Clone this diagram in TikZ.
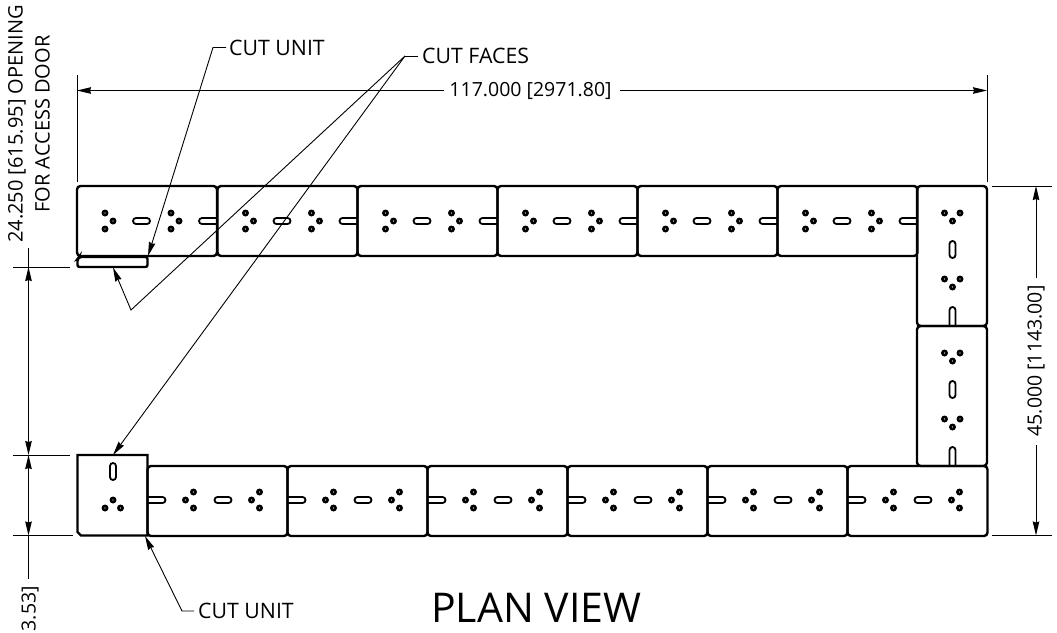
\documentclass[tikz,border=0pt]{standalone}
\usepackage{fontspec}
\setmainfont{Open Sans}
\usetikzlibrary{arrows.meta}
\tikzset{
  panel/.style={line width=2.4pt,rounded corners=3.5pt,draw=black},
  cutpanel/.style={line width=2.4pt,draw=black},
  slotline/.style={line width=1.8pt,draw=black},
  holeblack/.style={fill=black,draw=none},
  holewhite/.style={fill=white,draw=none},
  thin dim/.style={line width=0.9pt,draw=black},
  dimarrow/.style={line width=1pt,draw=black,-{Stealth[length=14pt,width=6.5pt,inset=1pt]}},
  leadarrow/.style={line width=0.9pt,draw=black,-{Stealth[length=14pt,width=6.5pt,inset=1pt]}},
  label/.style={font=\fontsize{19.5}{27}\selectfont,inner sep=0pt,text=black},
  caplabel/.style={font=\fontsize{21.3}{27}\selectfont,inner sep=0pt,text=black},
  sidelabel/.style={font=\fontsize{20}{27}\selectfont,inner sep=0pt,text=black},
}
\newcommand{\hl}[2]{\fill[holeblack] (#1,#2) circle (3.5pt);\fill[holewhite] (#1,#2) circle (0.7pt);}
\newcommand{\hslot}[2]{\draw[slotline,rounded corners=3pt] (#1,#2-3) rectangle (#1+17,#2+3);}
\newcommand{\vslot}[2]{\draw[slotline,rounded corners=3pt] (#1-3,#2) rectangle (#1+3,#2+17);}
% top row panel: x = left edge
\newcommand{\toppanel}[1]{
\begin{scope}[shift={(#1,186)}]
 \draw[panel] (0,0) rectangle (140,70);
 \hl{28}{27}\hl{28}{43}\hl{36}{35}
 \hslot{56}{35}
 \hl{94}{27}\hl{94}{43}\hl{102}{35}
 \draw[slotline,rounded corners=3pt] (139.5,32) -- (122,32) -- (122,38) -- (139.5,38);
\end{scope}}
% bottom row panel
\newcommand{\botpanel}[1]{
\begin{scope}[shift={(#1,466)}]
 \draw[panel] (0,0) rectangle (140,70);
 \draw[slotline,rounded corners=3pt] (0.5,31) -- (18,31) -- (18,37) -- (0.5,37);
 \hl{38}{34}\hl{46}{26}\hl{46}{42}
 \hslot{67}{34}
 \hl{104}{34}\hl{112}{26}\hl{112}{42}
\end{scope}}
% right column panel
\newcommand{\sidepanel}[1]{
\begin{scope}[shift={(917,#1)}]
 \draw[panel] (0,0) rectangle (70,140);
 \hl{27.5}{27}\hl{43}{27}\hl{35.5}{35}
 \vslot{35.5}{55}
 \hl{27.5}{93}\hl{43}{93}\hl{35.5}{101}
 \draw[slotline,rounded corners=3pt] (32.5,139.5) -- (32.5,121) -- (38.5,121) -- (38.5,139.5);
\end{scope}}
\begin{document}
\begin{tikzpicture}[x=1pt,y=-1pt]
\useasboundingbox (0,0) rectangle (1057,632);
% panels
\toppanel{77}\toppanel{217.5}\toppanel{357.5}\toppanel{497.5}\toppanel{637.5}\toppanel{777.5}
\sidepanel{186}\sidepanel{326}
\botpanel{147.5}\botpanel{287.5}\botpanel{427.5}\botpanel{567.5}\botpanel{707.5}\botpanel{847.5}
% cut units
\draw[cutpanel,rounded corners=2pt] (77.5,267) -- (77.5,259) -- (79,257) -- (147.5,257) -- (147.5,267) -- cycle;
\draw[cutpanel] (77.5,455) -- (147.5,455) -- (147.5,535.5) -- (81,535.5) -- (77.5,532) -- cycle;
\vslot{113}{463}
\hl{113}{500}\hl{105}{508}\hl{120.5}{508}
% extension lines
\coordinate (e1a) at (77,75); \coordinate (e1b) at (77,182);
\coordinate (e2a) at (987,75); \coordinate (e2b) at (987,182);
\coordinate (e3a) at (992,186); \coordinate (e3b) at (1052,186);
\coordinate (e4a) at (992,535.5); \coordinate (e4b) at (1052,535.5);
\coordinate (e5a) at (13,267); \coordinate (e5b) at (70,267);
\coordinate (e6a) at (13,455); \coordinate (e6b) at (70,455);
\coordinate (e7a) at (13,535.5); \coordinate (e7b) at (73,535.5);
\foreach \a/\b in {e1a/e1b,e2a/e2b,e3a/e3b,e4a/e4b,e5a/e5b,e6a/e6b,e7a/e7b}
  \draw[thin dim] (\a) -- (\b);
% texts
\node[label] (dimw) at (530.5,91) {117.000 [2971.80]};
\node[label,rotate=90] (dimh) at (1036,361) {45.000 [1143.00]};
\node[sidelabel,rotate=90,align=center] (dimo) at (29,124) {24.250 [615.95] OPENING\\FOR ACCESS DOOR};
\node[label,rotate=90,anchor=east] (dimc) at (30,586) {3.53]};
\node[caplabel,anchor=west] (cu1) at (229,48) {CUT UNIT};
\node[caplabel,anchor=west] (cf) at (422,56) {CUT FACES};
\node[caplabel,anchor=west] (cu2) at (198,611) {CUT UNIT};
\node[inner sep=0pt,anchor=west,font=\fontsize{41}{46}\selectfont] (plan) at (431,608) {PLAN VIEW};
% horizontal dim
\coordinate (wl) at (77,90.5); \coordinate (wr) at (987,90.5);
\coordinate (wa) at (444,90.5); \coordinate (wb) at (620,90.5);
\draw[dimarrow] (wa) -- (wl);
\draw[dimarrow] (wb) -- (wr);
% right dim
\coordinate (ht) at (1036,186); \coordinate (hb) at (1036,535.5);
\coordinate (ha) at (1036,278); \coordinate (hc) at (1036,445);
\draw[dimarrow] (ha) -- (ht);
\draw[dimarrow] (hc) -- (hb);
% left dims
\coordinate (l1) at (28.5,267); \coordinate (l2) at (28.5,455); \coordinate (l3) at (28.5,535.5);
\coordinate (l0) at (28.5,248); \coordinate (l4) at (28.5,579);
\coordinate (lm) at (28.5,361); \coordinate (ln) at (28.5,495);
\draw[thin dim] (l0) -- (l1);
\draw[dimarrow] (lm) -- (l1);
\draw[dimarrow] (lm) -- (l2);
\draw[dimarrow] (ln) -- (l2);
\draw[dimarrow] (ln) -- (l3);
\draw[thin dim] (l3) -- (l4);
% leaders
\coordinate (k1) at (213,47.5); \coordinate (t1) at (148,256);
\draw[leadarrow] (cu1.west) ++(-3,-0.5) -- (k1) -- (t1);
\coordinate (k2) at (405,56); \coordinate (m2) at (131,310);
\coordinate (t2) at (113,267.5); \coordinate (t3) at (113,455);
\draw[thin dim] (cf.west) ++(-4,0) -- (k2);
\draw[leadarrow] (k2) -- (m2) -- (t2);
\draw[leadarrow] (k2) -- (t3);
\coordinate (k3) at (182,611); \coordinate (t4) at (145,536);
\draw[leadarrow] (cu2.west) ++(-4,0) -- (k3) -- (t4);
\end{tikzpicture}
\end{document}
